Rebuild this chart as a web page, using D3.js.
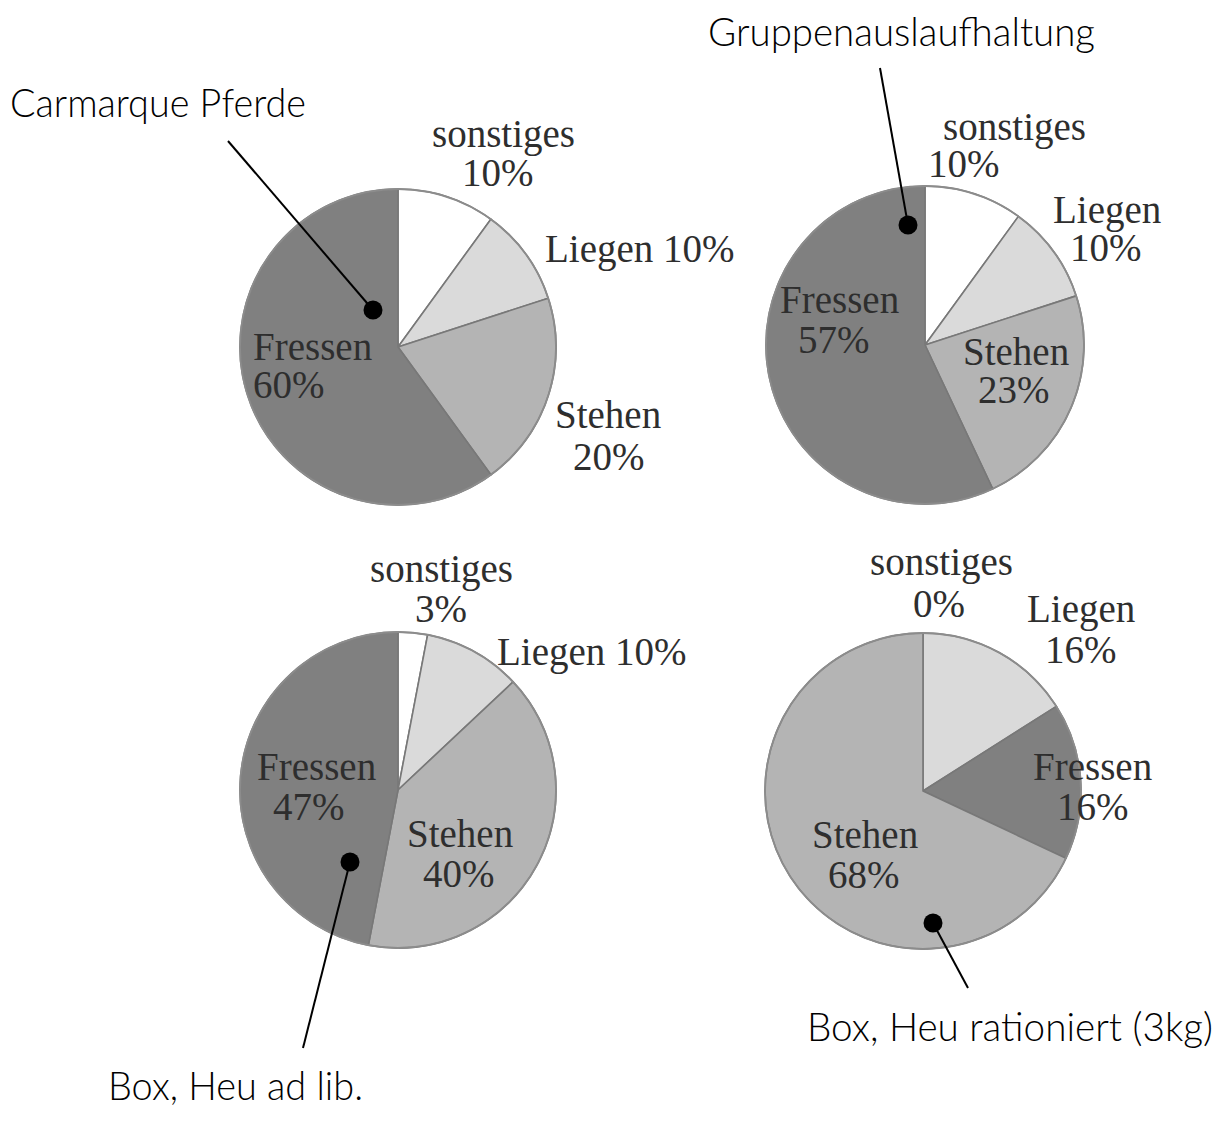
<!DOCTYPE html>
<html>
<head>
<meta charset="utf-8">
<script src="https://cdn.jsdelivr.net/npm/d3@7"></script>
<style>
  html, body { margin: 0; padding: 0; background: #ffffff; }
  svg { display: block; }
</style>
</head>
<body>
<svg id="chart" width="1224" height="1133"></svg>
<script>
// ---------------- DATA ----------------
const categories = ["sonstiges", "Liegen", "Stehen", "Fressen"];
const groups = ["Carmarque Pferde", "Gruppenauslaufhaltung", "Box, Heu ad lib.", "Box, Heu rationiert (3kg)"];
const sonstigesValues = [10, 10, 3, 0];
const liegenValues    = [10, 10, 10, 16];
const stehenValues    = [20, 23, 40, 68];
const fressenValues   = [60, 57, 47, 16];
// clockwise slice order (indices into categories) for each pie
const sliceOrder = [[0, 1, 2, 3], [0, 1, 2, 3], [0, 1, 2, 3], [0, 1, 3, 2]];

// ---------------- LAYOUT / STYLE ----------------
const colors = { "sonstiges": "#ffffff", "Liegen": "#dadada", "Stehen": "#b4b4b4", "Fressen": "#808080" };
const pieLayout = [
  { cx: 398, cy: 347, r: 158 },
  { cx: 925, cy: 345, r: 159 },
  { cx: 398, cy: 790, r: 158 },
  { cx: 923, cy: 791, r: 158 }
];
// label placement per pie and category: [x, y] of each line (absolute), oneLine flag
const labelLayout = [
  { sonstiges: { oneLine: false, pos: [[432, 147], [462, 186]] },
    Liegen:    { oneLine: true,  pos: [[545, 262]] },
    Stehen:    { oneLine: false, pos: [[555, 428], [573, 470]] },
    Fressen:   { oneLine: false, pos: [[253, 360], [253, 398]] } },
  { sonstiges: { oneLine: false, pos: [[943, 140], [928, 177]] },
    Liegen:    { oneLine: false, pos: [[1053, 223], [1070, 261]] },
    Stehen:    { oneLine: false, pos: [[963, 365], [978, 403]] },
    Fressen:   { oneLine: false, pos: [[780, 313], [798, 353]] } },
  { sonstiges: { oneLine: false, pos: [[370, 582], [415, 622]] },
    Liegen:    { oneLine: true,  pos: [[497, 665]] },
    Stehen:    { oneLine: false, pos: [[407, 847], [423, 887]] },
    Fressen:   { oneLine: false, pos: [[257, 780], [273, 820]] } },
  { sonstiges: { oneLine: false, pos: [[870, 575], [913, 617]] },
    Liegen:    { oneLine: false, pos: [[1027, 622], [1045, 663]] },
    Stehen:    { oneLine: false, pos: [[812, 848], [828, 888]] },
    Fressen:   { oneLine: false, pos: [[1033, 780], [1057, 820]] } }
];
// annotation callouts: text position, line start, dot position
const annotations = [
  { text: [10, 117], len: 296, from: [228, 141], dot: [373, 310] },
  { text: [708, 46], len: 387, from: [880, 68], dot: [908, 225] },
  { text: [108, 1100], len: 255, from: [303, 1048], dot: [350, 862] },
  { text: [807, 1041], len: 406, from: [968, 988], dot: [933, 923] }
];

const valuesByCat = { "sonstiges": sonstigesValues, "Liegen": liegenValues, "Stehen": stehenValues, "Fressen": fressenValues };

const svg = d3.select("#chart");
const pie = d3.pie().sort(null).value(d => d.value);

groups.forEach((g, i) => {
  const L = pieLayout[i];
  const data = sliceOrder[i].map(ci => ({ cat: categories[ci], value: valuesByCat[categories[ci]][i] }));
  const arc = d3.arc().innerRadius(0).outerRadius(L.r);
  const gp = svg.append("g").attr("transform", `translate(${L.cx},${L.cy})`);
  gp.selectAll("path")
    .data(pie(data))
    .join("path")
    .attr("d", arc)
    .attr("fill", d => colors[d.data.cat])
    .attr("stroke", "#787878")
    .attr("stroke-width", 1.6)
    .attr("stroke-linejoin", "round");
  gp.append("circle").attr("r", L.r).attr("fill", "none").attr("stroke", "#8c8c8c").attr("stroke-width", 1.8);

  // labels
  data.forEach(d => {
    const lay = labelLayout[i][d.cat];
    const lines = lay.oneLine ? [`${d.cat} ${d.value}%`] : [d.cat, `${d.value}%`];
    lines.forEach((t, k) => {
      svg.append("text")
        .attr("x", lay.pos[k][0])
        .attr("y", lay.pos[k][1])
        .attr("font-family", "'Liberation Serif', 'Times New Roman', serif")
        .attr("font-size", 39)
        .attr("fill", "#2e2e2e")
        .text(t);
    });
  });
});

// annotations
groups.forEach((g, i) => {
  const a = annotations[i];
  svg.append("line")
    .attr("x1", a.from[0]).attr("y1", a.from[1])
    .attr("x2", a.dot[0]).attr("y2", a.dot[1])
    .attr("stroke", "#000").attr("stroke-width", 2);
  svg.append("circle")
    .attr("cx", a.dot[0]).attr("cy", a.dot[1]).attr("r", 9.5)
    .attr("fill", "#000");
  svg.append("text")
    .attr("x", a.text[0]).attr("y", a.text[1])
    .attr("font-family", "Lato, 'Open Sans', sans-serif")
    .attr("font-weight", 300)
    .attr("font-size", 39)
    .attr("fill", "#000")
    .attr("textLength", a.len)
    .attr("lengthAdjust", "spacingAndGlyphs")
    .text(g);
});
</script>
</body>
</html>
